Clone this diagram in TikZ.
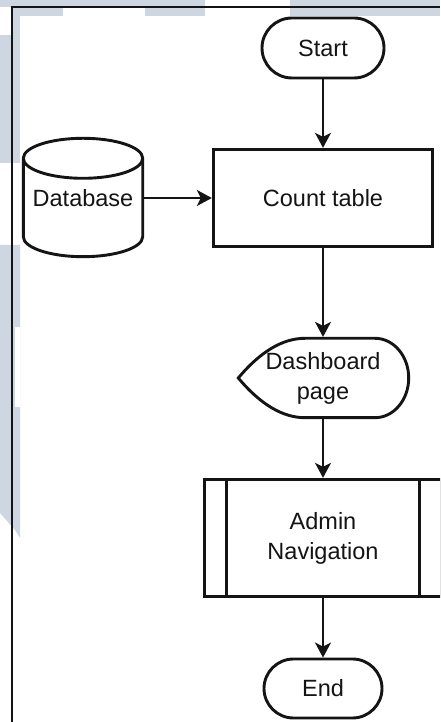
\documentclass[tikz,border=0pt]{standalone}
\usepackage{fontspec}
\setmainfont{Liberation Sans}
\usetikzlibrary{arrows.meta,shapes.misc}
\definecolor{pagetint}{RGB}{205,214,225}
\definecolor{ink}{RGB}{20,20,20}
\tikzset{
  shapeline/.style={draw=ink, line width=2.9pt},
  labeltext/.style={font=\fontsize{23.5}{30}\selectfont, text=ink, align=center},
  terminal/.style={rounded rectangle, shapeline, fill=white, labeltext, inner sep=0pt},
  processbox/.style={rectangle, shapeline, fill=white, labeltext, inner sep=0pt},
  flow/.style={draw=ink, line width=1.8pt, -{Stealth[length=15pt,width=16pt,inset=4pt]}},
}
\begin{document}
\begin{tikzpicture}[x=1pt,y=1pt]
\useasboundingbox (0,0) rectangle (440,722);
\begin{scope}
\clip (0,0) rectangle (440,722);
% page background with tinted strips
\fill[white] (0,0) rectangle (440,722);
\fill[pagetint] (0,715) rectangle (205,722);
\fill[pagetint] (290,706) rectangle (440,722);
\fill[pagetint] (12,706) rectangle (63,715);
\fill[pagetint] (145,706) rectangle (205,715);
\fill[pagetint] (12,559) rectangle (20,715);
\fill[pagetint] (0,559) rectangle (12,687);
\fill[pagetint] (0,477) -- (20,477) -- (20,184) -- (15,192) -- (0,209) -- cycle;
\fill[white] (15,315) rectangle (20,395);
% frame
\draw[line width=1.2pt, ink] (12,0) -- (12,715) -- (440,715);

% terminals and process steps
\node[terminal, minimum width=122pt, minimum height=60pt] (start) at (323,674) {Start};
\node[processbox, minimum width=219.4pt, minimum height=97.4pt] (count) at (323,524) {Count table};

% database cylinder
\node[labeltext, minimum width=119.4pt, minimum height=118.4pt, inner sep=0pt, outer sep=1.4pt] (db) at (83,524) {Database};
\draw[shapeline] (23.3,563.7) -- (23.3,485.3)
  arc[start angle=180, end angle=360, x radius=59.7pt, y radius=20pt]
  -- (142.7,563.7)
  arc[start angle=0, end angle=180, x radius=59.7pt, y radius=20pt];
\draw[shapeline] (23.3,563.7)
  arc[start angle=180, end angle=360, x radius=59.7pt, y radius=20pt];

% display shape
\draw[shapeline, fill=white] (238.3,344)
  .. controls (260.5,370.5) and (282.8,383.7) .. (305,383.7)
  -- (375,383.7)
  arc[start angle=90, end angle=-90, x radius=33.7pt, y radius=39.7pt]
  -- (305,304.3)
  .. controls (282.8,304.3) and (260.5,317.5) .. (238.3,344) -- cycle;
\node[labeltext, minimum width=170.4pt, minimum height=79.4pt, inner sep=0pt, outer sep=1.4pt] (dash) at (323,344) {Dashboard\\page};

% predefined process
\node[processbox, minimum width=237.4pt, minimum height=117.4pt] (admin) at (323,184) {Admin\\Navigation};
\draw[shapeline] ([xshift=24pt]admin.north west) -- ([xshift=24pt]admin.south west);
\draw[shapeline] ([xshift=-24pt]admin.north east) -- ([xshift=-24pt]admin.south east);

\node[terminal, minimum width=118pt, minimum height=59pt] (stop) at (323,33.5) {End};

% connectors
\draw[flow] (start.south) -- (count.north);
\draw[flow] (db.east) -- (count.west);
\draw[flow] (count.south) -- (dash.north);
\draw[flow] (dash.south) -- (admin.north);
\draw[flow] (admin.south) -- (stop.north);
\end{scope}
\end{tikzpicture}
\end{document}
